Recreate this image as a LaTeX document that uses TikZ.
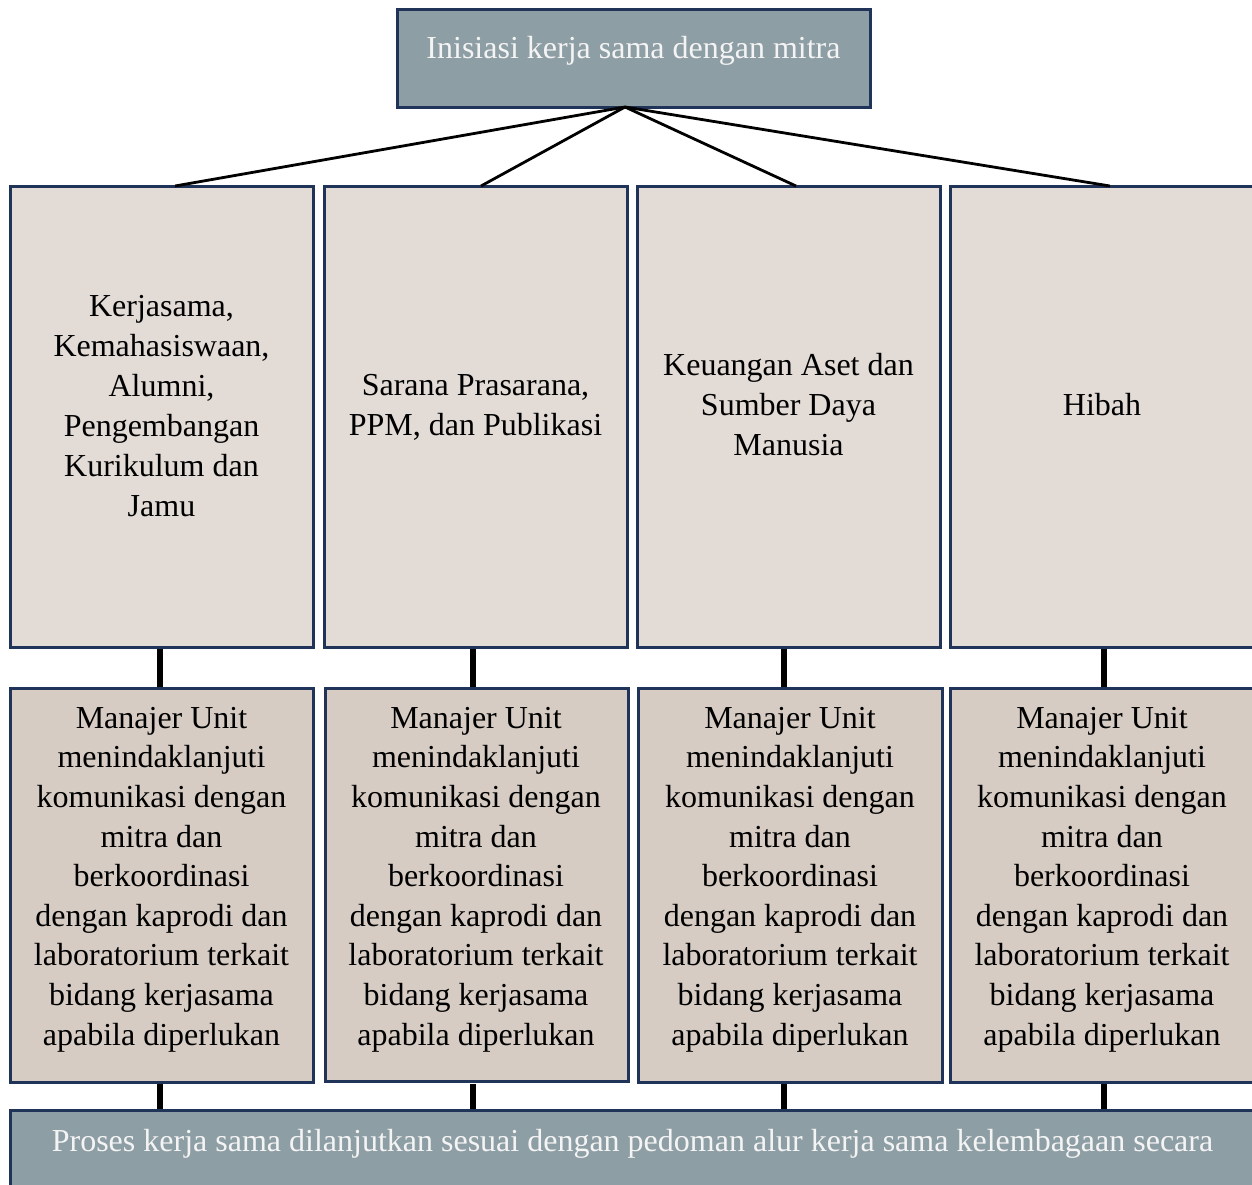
\documentclass[tikz,border=0pt]{standalone}
\usepackage{fontspec}
\setmainfont{Liberation Serif}
\definecolor{topfill}{HTML}{8E9EA5}
\definecolor{rowone}{HTML}{E2DBD6}
\definecolor{rowtwo}{HTML}{D6CCC3}
\definecolor{edge}{HTML}{1F3458}
\definecolor{lighttext}{HTML}{F4F4F4}
\begin{document}
\begin{tikzpicture}[x=1pt,y=-1pt,
  box/.style={draw=edge,line width=3pt},
  txt/.style={anchor=base,align=center,inner sep=0pt,font=\fontsize{32}{40}\selectfont},
  rtxt/.style={txt,font=\fontsize{32}{39.6}\selectfont},
  wtxt/.style={txt,text=lighttext},
  thin/.style={line width=2.8pt},
  thick/.style={line width=5.5pt}]
\useasboundingbox (0,0) rectangle (1252,1184);
\clip (0,0) rectangle (1252,1184);
% top
\path[box,fill=topfill] (397,9) rectangle (870,107);
\node[wtxt] (top) at (633.5,58) {Inisiasi kerja sama dengan mitra};
\coordinate (apex) at (625,107);
% row one boxes
\path[box,fill=rowone] (10,186) rectangle (313,647);
\path[box,fill=rowone] (324,186) rectangle (627,647);
\path[box,fill=rowone] (637,186) rectangle (940,647);
\path[box,fill=rowone] (950,186) rectangle (1265,647);
\coordinate (aA) at (175,186);
\coordinate (aB) at (481,186);
\coordinate (aC) at (796,186);
\coordinate (aD) at (1110,186);
\node[txt] (kA) at (161.5,516.7) {Kerjasama,\\Kemahasiswaan,\\Alumni,\\Pengembangan\\Kurikulum dan\\Jamu};
\node[txt] (kB) at (475.5,435) {Sarana Prasarana,\\PPM, dan Publikasi};
\node[txt] (kC) at (788.5,455) {Keuangan Aset dan\\Sumber Daya\\Manusia};
\node[txt] (kD) at (1102,415) {Hibah};
% row two boxes
\path[box,fill=rowtwo] (10,688) rectangle (313,1082);
\path[box,fill=rowtwo] (325,688) rectangle (628,1081);
\path[box,fill=rowtwo] (638,688) rectangle (942,1082);
\path[box,fill=rowtwo] (950,688) rectangle (1265,1082);
\node[rtxt] (mA) at (161.5,1045) {Manajer Unit\\menindaklanjuti\\komunikasi dengan\\mitra dan\\berkoordinasi\\dengan kaprodi dan\\laboratorium terkait\\bidang kerjasama\\apabila diperlukan};
\node[rtxt] (mB) at (476,1045) {Manajer Unit\\menindaklanjuti\\komunikasi dengan\\mitra dan\\berkoordinasi\\dengan kaprodi dan\\laboratorium terkait\\bidang kerjasama\\apabila diperlukan};
\node[rtxt] (mC) at (790,1045) {Manajer Unit\\menindaklanjuti\\komunikasi dengan\\mitra dan\\berkoordinasi\\dengan kaprodi dan\\laboratorium terkait\\bidang kerjasama\\apabila diperlukan};
\node[rtxt] (mD) at (1102,1045) {Manajer Unit\\menindaklanjuti\\komunikasi dengan\\mitra dan\\berkoordinasi\\dengan kaprodi dan\\laboratorium terkait\\bidang kerjasama\\apabila diperlukan};
% bottom
\path[box,fill=topfill] (10,1110) rectangle (1265,1200);
\node[wtxt] (bot) at (632.5,1151.5) {Proses kerja sama dilanjutkan sesuai dengan pedoman alur kerja sama kelembagaan secara};
% connectors
\foreach \e in {aA,aB,aC,aD} \draw[thin] (apex) -- (\e);
\coordinate (uA) at (160,647); \coordinate (lA) at (160,688);
\coordinate (uB) at (473,647); \coordinate (lB) at (473,688);
\coordinate (uC) at (784,647); \coordinate (lC) at (784,688);
\coordinate (uD) at (1104,647); \coordinate (lD) at (1104,688);
\coordinate (vA) at (160,1082); \coordinate (wA) at (160,1110);
\coordinate (vB) at (473,1082); \coordinate (wB) at (473,1110);
\coordinate (vC) at (784,1082); \coordinate (wC) at (784,1110);
\coordinate (vD) at (1104,1082); \coordinate (wD) at (1104,1110);
\foreach \c in {A,B,C,D} {
  \draw[thick] ([yshift=-1.5pt]u\c) -- ([yshift=1.5pt]l\c);
  \draw[thick] ([yshift=-1.5pt]v\c) -- ([yshift=1.5pt]w\c);
}
\end{tikzpicture}
\end{document}
